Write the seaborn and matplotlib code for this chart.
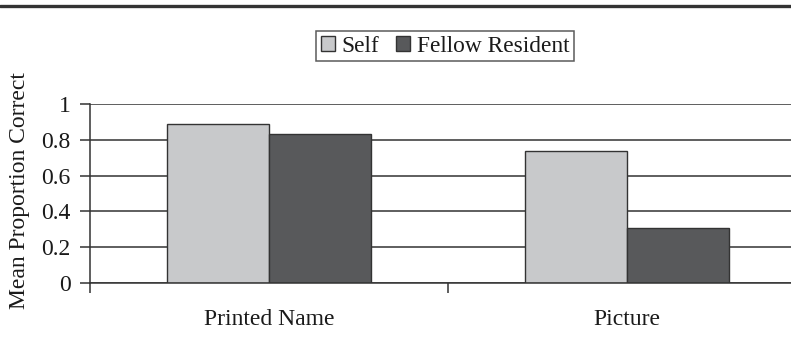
import matplotlib
matplotlib.use("Agg")
import matplotlib.pyplot as plt
from matplotlib.lines import Line2D
import seaborn as sns
import pandas as pd

# Data
conditions = ["Printed Name", "Picture"]
groups = ["Self", "Fellow Resident"]
self_vals = [0.89, 0.735]
fellow_vals = [0.833, 0.305]
y_ticks = [0, 0.2, 0.4, 0.6, 0.8, 1.0]
y_tick_labels = ["0", "0.2", "0.4", "0.6", "0.8", "1"]

df = pd.DataFrame({
    "Condition": conditions * 2,
    "Target": [groups[0]] * 2 + [groups[1]] * 2,
    "Value": self_vals + fellow_vals,
})

sns.set_style("white")
plt.rcParams["font.family"] = ["Liberation Serif", "DejaVu Serif"]
plt.rcParams["font.size"] = 17
plt.rcParams["text.color"] = "#1a1a1a"
plt.rcParams["xtick.color"] = "#1a1a1a"
plt.rcParams["ytick.color"] = "#1a1a1a"

ink = "#333333"
fig = plt.figure(figsize=(7.91, 3.51), dpi=100)
ax = fig.add_axes([90 / 791, 1 - 283 / 351, 716 / 791, 179 / 351])

sns.barplot(data=df, x="Condition", y="Value", hue="Target",
            order=conditions, hue_order=groups,
            palette={"Self": "#c8c9cb", "Fellow Resident": "#58595b"},
            edgecolor=ink, linewidth=1.0, width=0.57, gap=0,
            errorbar=None, legend=True, ax=ax)

ax.set_xlim(-0.5, 1.5)
ax.set_ylim(0, 1)
ax.set_axisbelow(True)
ax.yaxis.grid(True, color=ink, linewidth=1.1)
ax.xaxis.grid(False)

ax.set_yticks(y_ticks, y_tick_labels)
ax.tick_params(axis="y", direction="out", length=7, width=1.1, color=ink,
               pad=7, left=True, labelsize=17)
ax.tick_params(axis="x", which="major", length=0, pad=19, labelsize=17)
ax.set_xticks([-0.5, 0.5, 1.5], minor=True)
ax.tick_params(axis="x", which="minor", direction="out", length=7,
               width=1.1, color=ink, bottom=True)

for side in ["top", "right"]:
    ax.spines[side].set_visible(False)
for side in ["left", "bottom"]:
    ax.spines[side].set_color(ink)
    ax.spines[side].set_linewidth(1.1)

ax.set_xlabel("")
ax.set_ylabel("")
fig.text(20 / 791, 1 - 191 / 351, "Mean Proportion Correct", rotation=90,
         ha="center", va="center", fontsize=17)

handles, labels = ax.get_legend_handles_labels()
ax.get_legend().remove()
leg = fig.legend(handles, labels, loc="center",
                 bbox_to_anchor=(445 / 791, 1 - 46 / 351), ncol=2,
                 frameon=True, fancybox=False, edgecolor=ink,
                 handlelength=0.6, handleheight=0.6, handletextpad=0.3,
                 columnspacing=0.7, borderpad=0.2, fontsize=16.8)
leg.get_frame().set_linewidth(1.1)

# heavy rule across the top of the figure
fig.add_artist(Line2D([0, 1], [1 - 5.5 / 351, 1 - 5.5 / 351],
                      transform=fig.transFigure, color=ink, linewidth=2.4))

fig.savefig("out.png", dpi=100)
